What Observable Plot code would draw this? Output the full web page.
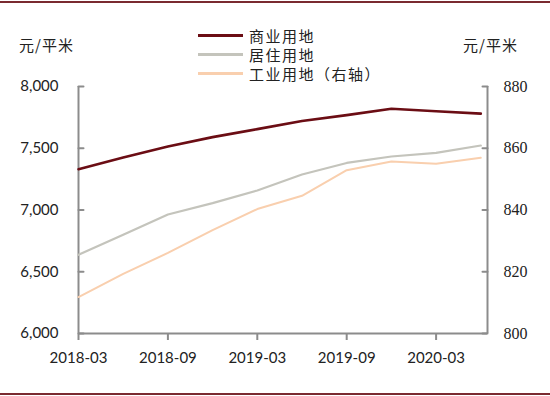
<!DOCTYPE html>
<html>
<head>
<meta charset="utf-8">
<script src="https://cdn.jsdelivr.net/npm/d3@7"></script>
<script src="https://cdn.jsdelivr.net/npm/@observablehq/plot@0.6"></script>
<style>
  html, body { margin: 0; padding: 0; background: #fff; }
  #wrap { position: relative; width: 550px; height: 396px; overflow: hidden; }
  #chart { position: absolute; left: 0; top: 0; }
  .rule { position: absolute; left: 0; width: 550px; height: 2px; background: #7a2a30; }
  .unit { position: absolute; font-family: "Noto Sans CJK SC", sans-serif; font-size: 15px; letter-spacing: 1px; color: #222; line-height: 1; }
  #legend { position: absolute; left: 198px; top: 26px; font-family: "Noto Sans CJK SC", sans-serif; font-size: 15px; letter-spacing: 1.5px; color: #222; }
  .row { display: flex; align-items: center; height: 19px; }
  .sw { width: 45px; height: 3px; margin-right: 6px; }
</style>
</head>
<body>
<div id="wrap">
  <div class="rule" style="top:1px"></div>
  <div class="rule" style="top:393px"></div>
  <div class="unit" style="left:19px; top:37px">元/平米</div>
  <div class="unit" style="left:463px; top:37px">元/平米</div>
  <div id="legend"></div>
  <div id="chart"></div>
</div>
<script>
// Quarterly observations, 2018-03 .. 2020-06
const quarters = ["2018-03","2018-06","2018-09","2018-12","2019-03","2019-06","2019-09","2019-12","2020-03","2020-06"];
const commercial  = [7330, 7425, 7515, 7590, 7655, 7720, 7768, 7820, 7800, 7780];   // 元/平米, left axis
const residential = [6637, 6800, 6964, 7056, 7158, 7287, 7381, 7433, 7462, 7522];   // 元/平米, left axis
const industrial  = [811.8, 819.3, 826.1, 833.5, 840.3, 844.6, 852.9, 855.7, 855.0, 856.9]; // 元/平米, right axis
const seriesNames = ["商业用地", "居住用地", "工业用地（右轴）"];
const seriesColors = ["#6b0d14", "#c4c4bc", "#f9cfae"];
const xTickLabels = ["2018-03","2018-09","2019-03","2019-09","2020-03"];
const leftTicks = [6000, 6500, 7000, 7500, 8000];
const rightTicks = [800, 820, 840, 860, 880];

const L0 = 6000, L1 = 8000, R0 = 800, R1 = 880;
const toLeft = v => L0 + (v - R0) * (L1 - L0) / (R1 - R0);

const rows = [];
quarters.forEach((q, i) => {
  rows.push({i, s: seriesNames[0], v: commercial[i]});
  rows.push({i, s: seriesNames[1], v: residential[i]});
  rows.push({i, s: seriesNames[2], v: toLeft(industrial[i])});
});

const xTickIdx = xTickLabels.map(l => quarters.indexOf(l));
const axisColor = "#8c8c8c";
const tickShape = { draw(context, l) { context.moveTo(0, 0); context.lineTo(0, -l); } };
const xMax = quarters.length - 1 + 0.15;

const plot = Plot.plot({
  width: 550,
  height: 396,
  marginLeft: 78,
  marginRight: 63,
  marginTop: 86,
  marginBottom: 63,
  style: { background: "transparent", overflow: "visible" },
  x: { type: "linear", domain: [0, xMax] },
  y: { domain: [L0, L1] },
  color: { domain: seriesNames, range: seriesColors },
  marks: [
    // axis lines
    Plot.ruleX([0], { stroke: axisColor, strokeWidth: 2 }),
    Plot.ruleX([xMax], { stroke: axisColor, strokeWidth: 2 }),
    Plot.ruleY([L0], { stroke: axisColor, strokeWidth: 2 }),
    // inward ticks on both y axes
    Plot.vector(leftTicks, { y: d => d, frameAnchor: "left", rotate: 90, length: 5, anchor: "start",
      shape: tickShape, stroke: axisColor, strokeWidth: 2 }),
    Plot.vector(rightTicks.map(toLeft), { y: d => d, frameAnchor: "right", rotate: -90, length: 5, anchor: "start",
      shape: tickShape, stroke: axisColor, strokeWidth: 2 }),
    // left axis labels
    Plot.axisY({ anchor: "left", ticks: leftTicks, tickSize: 0, tickPadding: 20, label: null,
      tickFormat: d => d3.format(",")(d), fontSize: 15, fontFamily: "Lato, sans-serif", fill: "#222" }),
    // right axis labels
    Plot.axisY({ anchor: "right", ticks: rightTicks.map(toLeft), tickSize: 0, tickPadding: 16, label: null,
      tickFormat: (d, k) => rightTicks[k], fontSize: 16, fontFamily: "'Liberation Serif', serif", fill: "#222" }),
    // x axis
    Plot.axisX({ ticks: xTickIdx, tickFormat: (d, k) => xTickLabels[k], tickSize: 7, tickPadding: 12, label: null,
      fontSize: 15, fontFamily: "Lato, sans-serif", fill: "#222", stroke: axisColor, strokeWidth: 2 }),
    // series
    Plot.line(rows.filter(d => d.s === seriesNames[2]), { x: "i", y: "v", stroke: "s", strokeWidth: 2 }),
    Plot.line(rows.filter(d => d.s === seriesNames[1]), { x: "i", y: "v", stroke: "s", strokeWidth: 2.2 }),
    Plot.line(rows.filter(d => d.s === seriesNames[0]), { x: "i", y: "v", stroke: "s", strokeWidth: 2.6 })
  ]
});
document.getElementById("chart").appendChild(plot);

const legend = document.getElementById("legend");
seriesNames.forEach((n, k) => {
  const r = document.createElement("div");
  r.className = "row";
  r.innerHTML = `<span class="sw" style="background:${seriesColors[k]}"></span><span>${n}</span>`;
  legend.appendChild(r);
});
</script>
</body>
</html>
